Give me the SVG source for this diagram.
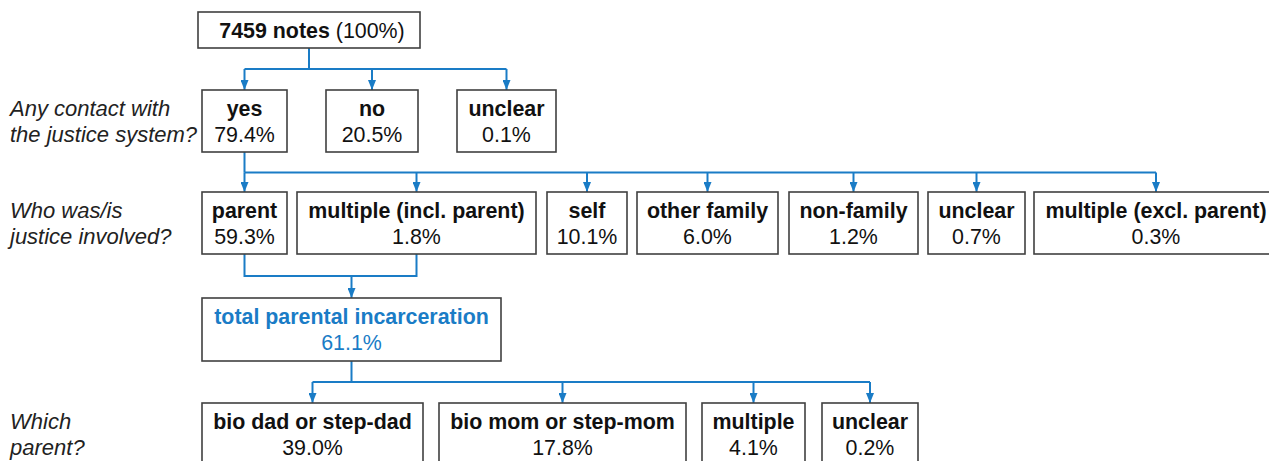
<svg xmlns="http://www.w3.org/2000/svg" width="1269" height="461" viewBox="0 0 1269 461">
<defs>
<style>
.box{fill:#fff;stroke:#404040;stroke-width:1.6}
text{font-family:"Liberation Sans",Arial,sans-serif;font-size:21.4px;fill:#111;text-anchor:middle}
.b{font-weight:bold}
.q{font-style:italic;text-anchor:start;fill:#222;font-size:22px}
.blue{fill:#1a7cc6}
.conn{fill:none;stroke:#1a7cc6;stroke-width:2}
</style>
<marker id="arr" viewBox="0 0 10 8" refX="10" refY="4" markerWidth="10" markerHeight="8" markerUnits="userSpaceOnUse" orient="auto">
<path d="M0,0 L10,4 L0,8 Z" fill="#1a7cc6"/>
</marker>
</defs>
<rect width="1269" height="461" fill="#fff"/>

<g id="labels">
<text class="q" x="10" y="116">Any contact with</text>
<text class="q" x="10" y="142">the justice system?</text>
<text class="q" x="10" y="218">Who was/is</text>
<text class="q" x="10" y="244">justice involved?</text>
<text class="q" x="10" y="429">Which</text>
<text class="q" x="10" y="455">parent?</text>
</g>

<g id="connectors">
<path class="conn" d="M309,48 V69 M244.5,69 H506.5"/>
<path class="conn" marker-end="url(#arr)" d="M244.5,69 V90"/>
<path class="conn" marker-end="url(#arr)" d="M372,69 V90"/>
<path class="conn" marker-end="url(#arr)" d="M506.5,69 V90"/>

<path class="conn" d="M244.5,152 V172.5 M244.5,172.5 H1156"/>
<path class="conn" marker-end="url(#arr)" d="M244.5,172.5 V192"/>
<path class="conn" marker-end="url(#arr)" d="M416.5,172.5 V192"/>
<path class="conn" marker-end="url(#arr)" d="M587,172.5 V192"/>
<path class="conn" marker-end="url(#arr)" d="M707.5,172.5 V192"/>
<path class="conn" marker-end="url(#arr)" d="M853.5,172.5 V192"/>
<path class="conn" marker-end="url(#arr)" d="M976.5,172.5 V192"/>
<path class="conn" marker-end="url(#arr)" d="M1156,172.5 V192"/>

<path class="conn" d="M244.5,254 V276 H416.5 V254"/>
<path class="conn" marker-end="url(#arr)" d="M351.5,276 V298"/>

<path class="conn" d="M351.5,361 V382 M312.5,382 H870"/>
<path class="conn" marker-end="url(#arr)" d="M312.5,382 V403"/>
<path class="conn" marker-end="url(#arr)" d="M562.5,382 V403"/>
<path class="conn" marker-end="url(#arr)" d="M753.5,382 V403"/>
<path class="conn" marker-end="url(#arr)" d="M870,382 V403"/>
</g>

<g id="n-root"><rect class="box" x="198" y="12" width="222" height="36"/>
<text x="312" y="37.5"><tspan class="b">7459 notes</tspan> (100%)</text></g>

<g id="n-yes"><rect class="box" x="202" y="90" width="85" height="62"/>
<text class="b" x="244.5" y="116">yes</text><text x="244.5" y="142">79.4%</text></g>
<g id="n-no"><rect class="box" x="326" y="90" width="92" height="62"/>
<text class="b" x="372" y="116">no</text><text x="372" y="142">20.5%</text></g>
<g id="n-unclear1"><rect class="box" x="457" y="90" width="99" height="62"/>
<text class="b" x="506.5" y="116">unclear</text><text x="506.5" y="142">0.1%</text></g>

<g id="n-parent"><rect class="box" x="202" y="192" width="85" height="62"/>
<text class="b" x="244.5" y="218">parent</text><text x="244.5" y="243.5">59.3%</text></g>
<g id="n-multi-incl"><rect class="box" x="297" y="192" width="239" height="62"/>
<text class="b" x="416.5" y="218">multiple (incl. parent)</text><text x="416.5" y="243.5">1.8%</text></g>
<g id="n-self"><rect class="box" x="547" y="192" width="80" height="62"/>
<text class="b" x="587" y="218">self</text><text x="587" y="243.5">10.1%</text></g>
<g id="n-other"><rect class="box" x="637" y="192" width="141" height="62"/>
<text class="b" x="707.5" y="218">other family</text><text x="707.5" y="243.5">6.0%</text></g>
<g id="n-nonfam"><rect class="box" x="789" y="192" width="129" height="62"/>
<text class="b" x="853.5" y="218">non-family</text><text x="853.5" y="243.5">1.2%</text></g>
<g id="n-unclear2"><rect class="box" x="928" y="192" width="97" height="62"/>
<text class="b" x="976.5" y="218">unclear</text><text x="976.5" y="243.5">0.7%</text></g>
<g id="n-multi-excl"><rect class="box" x="1034" y="192" width="244" height="62"/>
<text class="b" x="1156" y="218">multiple (excl. parent)</text><text x="1156" y="243.5">0.3%</text></g>

<g id="n-total"><rect class="box" x="202" y="298" width="299" height="63"/>
<text class="b blue" x="351.5" y="324">total parental incarceration</text><text class="blue" x="351.5" y="350">61.1%</text></g>

<g id="n-dad"><rect class="box" x="202" y="403" width="221" height="70"/>
<text class="b" x="312.5" y="429">bio dad or step-dad</text><text x="312.5" y="455">39.0%</text></g>
<g id="n-mom"><rect class="box" x="439" y="403" width="247" height="70"/>
<text class="b" x="562.5" y="429">bio mom or step-mom</text><text x="562.5" y="455">17.8%</text></g>
<g id="n-multi3"><rect class="box" x="702" y="403" width="103" height="70"/>
<text class="b" x="753.5" y="429">multiple</text><text x="753.5" y="455">4.1%</text></g>
<g id="n-unclear3"><rect class="box" x="822" y="403" width="96" height="70"/>
<text class="b" x="870" y="429">unclear</text><text x="870" y="455">0.2%</text></g>
</svg>
